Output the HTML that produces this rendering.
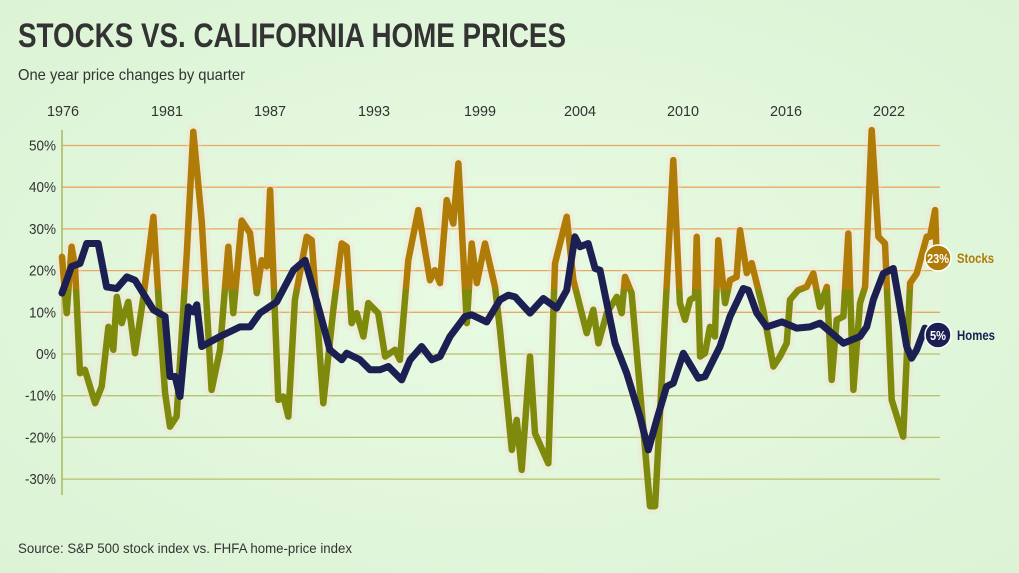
<!DOCTYPE html>
<html><head><meta charset="utf-8"><style>
html,body{margin:0;padding:0;background:#e4f8de;}
svg{display:block;font-family:"Liberation Sans Narrow","Liberation Sans",sans-serif;}
</style></head><body>
<svg id="chart" width="1019" height="573" viewBox="0 0 1019 573" xmlns="http://www.w3.org/2000/svg">
<defs>
<linearGradient id="stockGrad" gradientUnits="userSpaceOnUse" x1="0" y1="130" x2="0" y2="510">
<stop offset="0" stop-color="#b07c08"/><stop offset="0.42" stop-color="#b07c08"/><stop offset="0.42" stop-color="#7d8a0c"/><stop offset="1" stop-color="#7d8a0c"/>
</linearGradient>
<radialGradient id="bgGrad" cx="0.5" cy="0.5" r="0.7"><stop offset="0" stop-color="#e8fbe3"/><stop offset="1" stop-color="#dcf3d5"/></radialGradient>
</defs>
<rect x="0" y="0" width="1019" height="573" fill="url(#bgGrad)"/>
<text x="18" y="47" font-size="34" font-weight="bold" fill="#333" textLength="548" lengthAdjust="spacingAndGlyphs">STOCKS VS. CALIFORNIA HOME PRICES</text>
<text x="18" y="80" font-size="16" fill="#333" textLength="227" lengthAdjust="spacingAndGlyphs">One year price changes by quarter</text>
<g id="xaxis"></g>
<g id="grid"></g>
<line x1="62" y1="130" x2="62" y2="495" stroke="#a8b860" stroke-width="1.5"/>
<g id="series"></g>
<g>
<circle cx="938" cy="258" r="13" fill="#b07c08" stroke="#fff" stroke-width="1.5"/>
<text x="938" y="263" font-size="13" font-weight="bold" fill="#fff" text-anchor="middle" textLength="22" lengthAdjust="spacingAndGlyphs">23%</text>
<text x="957" y="263" font-size="14" font-weight="bold" fill="#b07c08" textLength="37" lengthAdjust="spacingAndGlyphs">Stocks</text>
</g>
<g>
<circle cx="938" cy="335" r="13" fill="#1b1f52" stroke="#fff" stroke-width="1.5"/>
<text x="938" y="340" font-size="13" font-weight="bold" fill="#fff" text-anchor="middle" textLength="16" lengthAdjust="spacingAndGlyphs">5%</text>
<text x="957" y="340" font-size="14" font-weight="bold" fill="#1b1f52" textLength="38" lengthAdjust="spacingAndGlyphs">Homes</text>
</g>
<text x="18" y="553" font-size="14" fill="#333" textLength="334" lengthAdjust="spacingAndGlyphs">Source: S&amp;P 500 stock index vs. FHFA home-price index</text>
</svg>
<script>
const yTicks=[50,40,30,20,10,0,-10,-20,-30];
const xTickLabels=["1976","1981","1987","1993","1999","2004","2010","2016","2022"];
const stockYears=[1975.0,1975.27,1975.55,1975.74,1976.03,1976.31,1976.89,1977.27,1977.65,1977.93,1978.13,1978.41,1978.79,1979.17,1979.65,1980.22,1980.6,1980.89,1981.17,1981.55,1982.13,1982.5,1982.98,1983.55,1984.03,1984.5,1984.79,1985.27,1985.74,1986.13,1986.41,1986.7,1986.89,1987.36,1987.65,1987.93,1988.31,1988.98,1989.27,1989.93,1990.5,1990.98,1991.27,1991.55,1991.84,1992.22,1992.5,1993.07,1993.46,1994.03,1994.31,1994.79,1995.36,1996.03,1996.31,1996.6,1996.98,1997.36,1997.65,1998.13,1998.41,1998.7,1999.17,1999.74,2000.03,2000.7,2000.98,2001.27,2001.74,2002.03,2002.79,2003.17,2003.84,2004.22,2004.98,2005.36,2005.65,2006.13,2006.7,2006.98,2007.17,2007.55,2008.6,2008.89,2009.93,2010.31,2010.6,2010.89,2011.17,2011.27,2011.46,2011.74,2012.03,2012.31,2012.5,2012.89,2013.17,2013.55,2013.74,2014.13,2014.41,2015.07,2015.65,2016.03,2016.41,2016.6,2017.07,2017.55,2017.93,2018.31,2018.7,2018.98,2019.27,2019.65,2019.93,2020.22,2020.6,2020.89,2021.27,2021.65,2022.03,2022.41,2023.07,2023.46,2023.84,2024.41,2024.6,2024.89,2024.98];
const stockValues=[23.3,9.8,25.7,21,-4.6,-3.8,-11.8,-7.8,6.5,1,13.7,7.4,12.5,0.2,13.7,32.9,7.4,-9.4,-17.4,-15,24.2,53.3,32,-8.6,1,25.7,9.8,32,29,14.6,22.5,21,39.3,-11,-10.2,-15,13,28.1,27.3,-11.8,10.6,26.5,25.7,7.4,9.8,4.2,12.2,9.8,-0.6,1,-1.4,22.5,34.5,17.7,20.1,17,36.9,31.3,45.7,7.4,26.5,17,26.5,16.1,5.8,-23,-15.8,-27.8,-0.6,-19,-26.2,21.7,32.9,17.7,5,10.6,2.6,9.8,13.7,9.8,18.5,14.6,-36.6,-36.6,46.5,12.2,8.2,13,13.7,28.1,-0.6,0.2,6.5,4.2,27.3,12.2,17.7,18.5,29.7,19.4,21.8,10.6,-3,-0.6,2.6,13,15.3,16.1,19.3,11.3,16.1,-6.2,8.2,9,28.9,-8.6,12.2,16.1,53.7,28.1,26.5,-11,-19.8,17,19.3,28.1,28.1,34.5,23];
const homeYears=[1975.0,1975.55,1976.03,1976.41,1977.07,1977.55,1978.13,1978.7,1979.17,1980.22,1980.89,1981.17,1981.46,1981.74,1982.22,1982.5,1982.7,1982.98,1984.03,1985.17,1985.74,1986.31,1987.27,1988.22,1988.89,1989.74,1990.31,1990.98,1991.27,1992.03,1992.6,1993.17,1993.65,1994.41,1994.89,1995.55,1996.13,1996.6,1997.17,1998.03,1998.41,1999.27,2000.03,2000.5,2000.89,2001.74,2002.5,2003.27,2003.84,2004.31,2004.6,2005.07,2005.46,2005.74,2006.6,2007.27,2008.03,2008.5,2008.98,2009.55,2009.93,2010.5,2011.36,2011.74,2012.6,2013.17,2013.93,2014.22,2014.7,2015.27,2016.13,2016.98,2017.74,2018.31,2018.98,2019.65,2020.6,2020.98,2021.36,2021.93,2022.5,2022.79,2023.27,2023.55,2023.84,2024.31,2024.41];
const homeValues=[14.6,21,21.7,26.5,26.5,16.1,15.7,18.5,17.7,10.6,9,-5.4,-5.4,-10.2,11.3,10.1,11.8,1.8,4.2,6.5,6.5,9.8,12.5,20.1,22.5,9.8,1,-1.4,0.2,-1.4,-3.8,-3.8,-3,-6.2,-1.4,1.8,-1.4,-0.6,4.2,9,9.4,7.7,13,14.1,13.7,9.8,13.3,11,15.3,28.1,25.7,26.5,20.5,20.1,2.6,-4.6,-15,-23,-15.8,-7.8,-7,0.2,-5.8,-5.4,1.8,9,15.7,15.3,9.8,6.5,7.7,6.2,6.5,7.4,5,2.6,4.2,6.5,13,19.3,20.5,13.7,1.8,-1,1,6.2,5];

const NS="http://www.w3.org/2000/svg";
const X0=62,YR0=1975,PX_PER_YEAR=17.5,Y0=354,PX_PER_PCT=4.17;
function xs(yr){return X0+(yr-YR0)*PX_PER_YEAR;}
function ys(v){return Y0-v*PX_PER_PCT;}
const xTickPos=[63,167,270,374,480,580,683,786,889];

const grid=document.getElementById('grid');
yTicks.forEach(function(t){
  const l=document.createElementNS(NS,'line');
  
  
  l.setAttribute('x1',X0);l.setAttribute('x2',940);
  l.setAttribute('y1',ys(t));l.setAttribute('y2',ys(t));
  l.setAttribute('stroke',t>=10?'#e9a861':'#b9c070');
  l.setAttribute('stroke-width','1.3');
  grid.appendChild(l);
  const tx=document.createElementNS(NS,'text');
  
  
  tx.setAttribute('x',56);tx.setAttribute('y',ys(t)+5);
  tx.setAttribute('text-anchor','end');tx.setAttribute('font-size','15');tx.setAttribute('fill','#333');
  tx.setAttribute('textLength',t<0?31:(t===0?20:27));tx.setAttribute('lengthAdjust','spacingAndGlyphs');
  tx.textContent=t+'%';
  grid.appendChild(tx);
});
const xa=document.getElementById('xaxis');
xTickLabels.forEach(function(lab,i){
  const tx=document.createElementNS(NS,'text');
  
  
  tx.setAttribute('x',xTickPos[i]);tx.setAttribute('y',116);
  tx.setAttribute('text-anchor','middle');tx.setAttribute('font-size','15');tx.setAttribute('fill','#333');
  tx.setAttribute('textLength','32');tx.setAttribute('lengthAdjust','spacingAndGlyphs');
  tx.textContent=lab;
  xa.appendChild(tx);
});
function pathD(years,vals){return years.map(function(y,i){return (i?'L':'M')+xs(y).toFixed(1)+','+ys(Math.max(vals[i],-36.5)).toFixed(1);}).join('');}
const ser=document.getElementById('series');
const halo=document.createElementNS(NS,'path');


halo.setAttribute('d',pathD(stockYears,stockValues));
halo.setAttribute('fill','none');halo.setAttribute('stroke','#ffd8cc');halo.setAttribute('stroke-opacity','0.3');halo.setAttribute('stroke-width','14');halo.setAttribute('stroke-linejoin','round');
ser.appendChild(halo);
const sp=document.createElementNS(NS,'path');


sp.setAttribute('d',pathD(stockYears,stockValues));
sp.setAttribute('fill','none');sp.setAttribute('stroke','url(#stockGrad)');sp.setAttribute('stroke-width','6.5');sp.setAttribute('stroke-linejoin','round');sp.setAttribute('stroke-linecap','round');
ser.appendChild(sp);
const hp=document.createElementNS(NS,'path');


hp.setAttribute('d',pathD(homeYears,homeValues));
hp.setAttribute('fill','none');hp.setAttribute('stroke','#1b1f52');hp.setAttribute('stroke-width','7');hp.setAttribute('stroke-linejoin','round');hp.setAttribute('stroke-linecap','round');
ser.appendChild(hp);
</script>
</body></html>
